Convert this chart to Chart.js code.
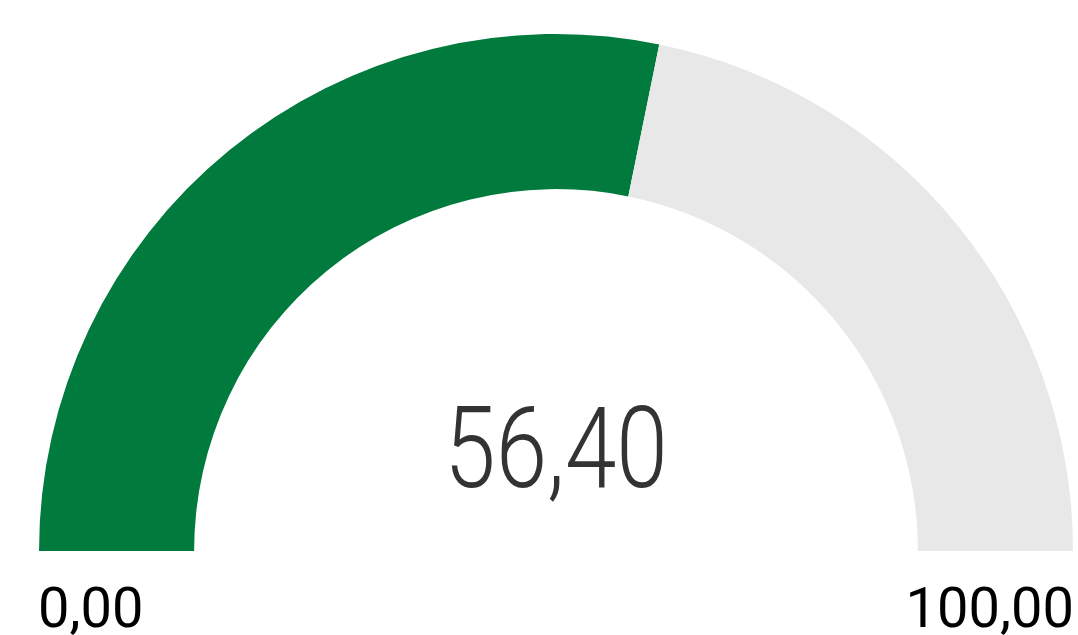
<!DOCTYPE html>
<html>
<head>
<meta charset="utf-8">
<script src="https://cdn.jsdelivr.net/npm/chart.js@4/dist/chart.umd.min.js"></script>
<style>
  html, body { margin: 0; padding: 0; background: #ffffff; }
  #wrap { width: 1078px; height: 635px; position: relative; }
</style>
</head>
<body>
<div id="wrap"><canvas id="gaugeChart"></canvas></div>
<script>
// Gauge data
const gaugeMin = 0;
const gaugeMax = 100;
const gaugeValue = 56.4;
const segmentLabels = ['Wert', 'Rest'];
const segmentValues = [gaugeValue - gaugeMin, gaugeMax - gaugeValue];
const segmentColors = ['#007a3d', '#e8e8e8'];

// German number format: 56,40
const fmt = v => v.toFixed(2).replace('.', ',');

// Draws the value in the middle and min / max under the ends
const gaugeText = {
    id: 'gaugeText',
    afterDraw(chart) {
        const ctx = chart.ctx;
        const arc = chart.getDatasetMeta(0).data[0];
        const cx = arc.x, cy = arc.y, r = arc.outerRadius;

        ctx.save();
        ctx.fillStyle = '#333333';
        ctx.textBaseline = 'alphabetic';
        ctx.textAlign = 'center';
        ctx.font = '300 113px Roboto';
        ctx.translate(cx, cy - 64);
        ctx.scale(0.82, 1);
        ctx.fillText(fmt(gaugeValue), 0, 0);
        ctx.restore();

        ctx.save();
        ctx.fillStyle = '#000000';
        ctx.font = '400 56px Roboto';
        ctx.textBaseline = 'alphabetic';
        ctx.textAlign = 'left';
        ctx.fillText(fmt(gaugeMin), cx - r - 1, cy + 76);
        ctx.textAlign = 'right';
        ctx.fillText(fmt(gaugeMax), cx + r + 1, cy + 76);
        ctx.restore();
    }
};

const ctx = document.getElementById('gaugeChart').getContext('2d');
const gaugeChart = new Chart(ctx, {
    type: 'doughnut',
    data: {
        labels: segmentLabels,
        datasets: [{
            data: segmentValues,
            backgroundColor: segmentColors,
            borderWidth: 0
        }]
    },
    options: {
        responsive: true,
        maintainAspectRatio: false,
        animation: false,
        rotation: -90,
        circumference: 180,
        cutout: '70%',
        layout: {
            padding: { left: 39, right: 5, top: 34, bottom: 84 }
        },
        plugins: {
            legend: { display: false },
            tooltip: { enabled: false }
        }
    },
    plugins: [gaugeText]
});
</script>
</body>
</html>
